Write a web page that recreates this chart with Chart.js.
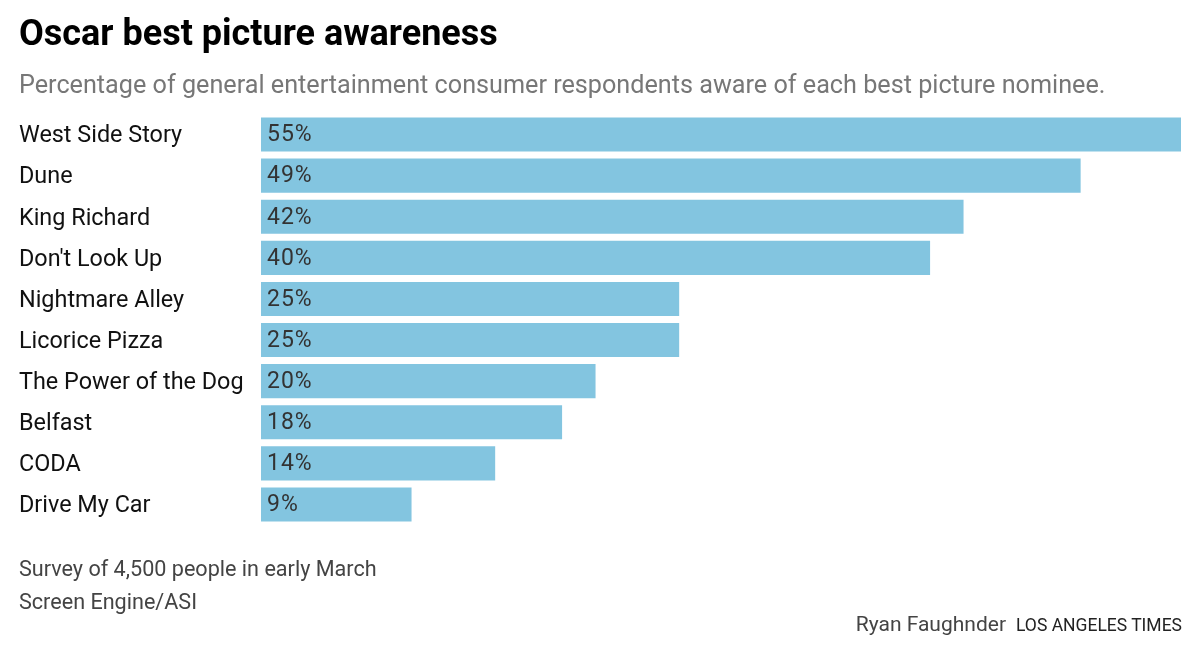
<!DOCTYPE html>
<html>
<head>
<meta charset="utf-8">
<script src="https://cdn.jsdelivr.net/npm/chart.js@4.4.0/dist/chart.umd.min.js"></script>
<style>
  body { margin: 0; background: #fff; font-family: Roboto, "Noto Sans", sans-serif; }
  #wrap { position: relative; width: 1200px; height: 658px; overflow: hidden; }
  #wrap canvas { position: absolute; left: 0; top: 0; }
  .txt { position: absolute; white-space: nowrap; line-height: 1; }
  #titulo { left: 19px; top: 15px; font-size: 36px; font-weight: 700; color: #000; }
  #subtitulo { left: 19px; top: 72px; font-size: 25.2px; color: #777; }
  #nota1 { left: 19px; top: 558px; font-size: 21.6px; color: #444; }
  #nota2 { left: 19px; top: 591px; font-size: 21.6px; color: #444; }
  #credito { right: 18px; top: 614px; font-size: 21px; color: #444; }
  #credito span { font-size: 17.5px; color: #222; margin-left: 10px; }
</style>
</head>
<body>
<div id="wrap">
  <canvas id="grafico" width="1200" height="658"></canvas>
  <div class="txt" id="titulo">Oscar best picture awareness</div>
  <div class="txt" id="subtitulo">Percentage of general entertainment consumer respondents aware of each best picture nominee.</div>
  <div class="txt" id="nota1">Survey of 4,500 people in early March</div>
  <div class="txt" id="nota2">Screen Engine/ASI</div>
  <div class="txt" id="credito">Ryan Faughnder<span>LOS ANGELES TIMES</span></div>
</div>
<script>
// dados
const filmes = ['West Side Story', 'Dune', 'King Richard', "Don't Look Up", 'Nightmare Alley',
    'Licorice Pizza', 'The Power of the Dog', 'Belfast', 'CODA', 'Drive My Car'];
const conhecimento = [55, 49, 42, 40, 25, 25, 20, 18, 14, 9];
const escalaMax = 55;

// rótulos de valor dentro das barras
const rotulosBarras = {
    id: 'rotulosBarras',
    afterDatasetsDraw(chart) {
        const ctx = chart.ctx;
        const meta = chart.getDatasetMeta(0);
        ctx.save();
        ctx.font = '23px Roboto, "Noto Sans", sans-serif';
        ctx.fillStyle = '#333';
        ctx.textAlign = 'left';
        ctx.textBaseline = 'middle';
        if ('letterSpacing' in ctx) ctx.letterSpacing = '1px';
        meta.data.forEach(function (bar, i) {
            ctx.fillText(conhecimento[i] + '%', bar.base + 6, bar.y + 1);
        });
        ctx.restore();
    }
};

const ctx = document.getElementById('grafico').getContext('2d');
new Chart(ctx, {
    type: 'bar',
    data: {
        labels: filmes,
        datasets: [{
            data: conhecimento,
            backgroundColor: '#83c5e0',
            borderWidth: 0,
            barPercentage: 0.83,
            categoryPercentage: 1
        }]
    },
    options: {
        indexAxis: 'y',
        responsive: false,
        animation: false,
        layout: {
            padding: { left: 19, right: 19, top: 114, bottom: 133 }
        },
        plugins: {
            legend: { display: false },
            tooltip: { enabled: false }
        },
        scales: {
            x: {
                display: false,
                min: 0,
                max: escalaMax
            },
            y: {
                grid: { display: false },
                border: { display: false },
                afterFit: function (axis) { axis.width = 242; },
                ticks: {
                    crossAlign: 'far',
                    color: '#111',
                    padding: 0,
                    labelOffset: 2,
                    font: { family: 'Roboto, "Noto Sans", sans-serif', size: 23.4 }
                }
            }
        }
    },
    plugins: [rotulosBarras]
});
</script>
</body>
</html>
